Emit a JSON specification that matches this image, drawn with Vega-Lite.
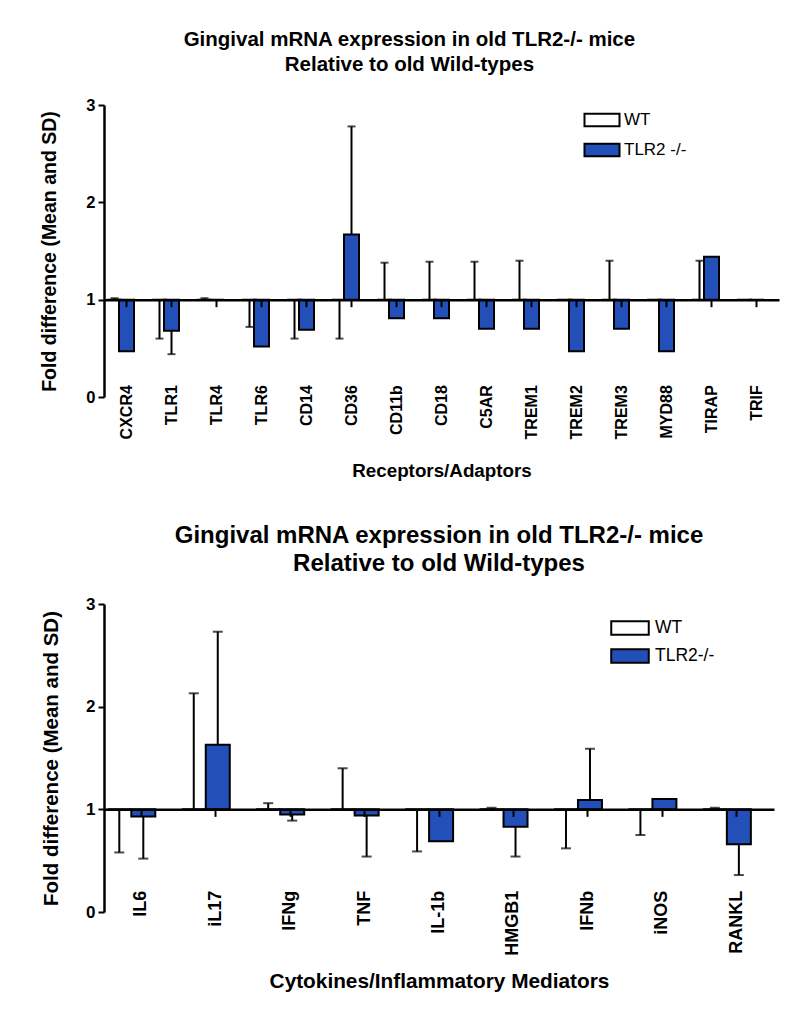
{
  "$schema": "https://vega.github.io/schema/vega-lite/v6.json",
  "background": "white",
  "padding": {"left": 39, "top": 29, "right": 5, "bottom": 5},
  "spacing": 43,
  "resolve": {"scale": {"fill": "independent"}, "legend": {"fill": "independent"}},
  "config": {
    "font": "Liberation Sans",
    "view": {"stroke": null},
    "axis": {"grid": false, "domainColor": "black", "tickColor": "black", "labelColor": "black", "titleColor": "black"}
  },
  "datasets": {
    "receptors": [
      {"gene": "CXCR4", "group": "WT", "mean": 1, "err": 1.015},
      {"gene": "CXCR4", "group": "TLR2 -/-", "mean": 0.47, "err": null},
      {"gene": "TLR1", "group": "WT", "mean": 1, "err": 0.6},
      {"gene": "TLR1", "group": "TLR2 -/-", "mean": 0.68, "err": 0.44},
      {"gene": "TLR4", "group": "WT", "mean": 1, "err": 1.015},
      {"gene": "TLR4", "group": "TLR2 -/-", "mean": 1, "err": null},
      {"gene": "TLR6", "group": "WT", "mean": 1, "err": 0.72},
      {"gene": "TLR6", "group": "TLR2 -/-", "mean": 0.52, "err": null},
      {"gene": "CD14", "group": "WT", "mean": 1, "err": 0.6},
      {"gene": "CD14", "group": "TLR2 -/-", "mean": 0.69, "err": null},
      {"gene": "CD36", "group": "WT", "mean": 1, "err": 0.6},
      {"gene": "CD36", "group": "TLR2 -/-", "mean": 1.67, "err": 2.78},
      {"gene": "CD11b", "group": "WT", "mean": 1, "err": 1.38},
      {"gene": "CD11b", "group": "TLR2 -/-", "mean": 0.81, "err": null},
      {"gene": "CD18", "group": "WT", "mean": 1, "err": 1.39},
      {"gene": "CD18", "group": "TLR2 -/-", "mean": 0.81, "err": null},
      {"gene": "C5AR", "group": "WT", "mean": 1, "err": 1.39},
      {"gene": "C5AR", "group": "TLR2 -/-", "mean": 0.7, "err": null},
      {"gene": "TREM1", "group": "WT", "mean": 1, "err": 1.4},
      {"gene": "TREM1", "group": "TLR2 -/-", "mean": 0.7, "err": null},
      {"gene": "TREM2", "group": "WT", "mean": 1, "err": null},
      {"gene": "TREM2", "group": "TLR2 -/-", "mean": 0.47, "err": null},
      {"gene": "TREM3", "group": "WT", "mean": 1, "err": 1.4},
      {"gene": "TREM3", "group": "TLR2 -/-", "mean": 0.7, "err": null},
      {"gene": "MYD88", "group": "WT", "mean": 1, "err": null},
      {"gene": "MYD88", "group": "TLR2 -/-", "mean": 0.47, "err": null},
      {"gene": "TIRAP", "group": "WT", "mean": 1, "err": 1.4},
      {"gene": "TIRAP", "group": "TLR2 -/-", "mean": 1.44, "err": null},
      {"gene": "TRIF", "group": "WT", "mean": 1, "err": null},
      {"gene": "TRIF", "group": "TLR2 -/-", "mean": 1, "err": null}
    ],
    "cytokines": [
      {"gene": "IL6", "group": "WT", "mean": 1, "err": 0.58},
      {"gene": "IL6", "group": "TLR2-/-", "mean": 0.93, "err": 0.52},
      {"gene": "iL17", "group": "WT", "mean": 1, "err": 2.13},
      {"gene": "iL17", "group": "TLR2-/-", "mean": 1.63, "err": 2.73},
      {"gene": "IFNg", "group": "WT", "mean": 1, "err": 1.06},
      {"gene": "IFNg", "group": "TLR2-/-", "mean": 0.95, "err": 0.89},
      {"gene": "TNF", "group": "WT", "mean": 1, "err": 1.4},
      {"gene": "TNF", "group": "TLR2-/-", "mean": 0.94, "err": 0.54},
      {"gene": "IL-1b", "group": "WT", "mean": 1, "err": 0.59},
      {"gene": "IL-1b", "group": "TLR2-/-", "mean": 0.69, "err": null},
      {"gene": "HMGB1", "group": "WT", "mean": 1, "err": 1.015},
      {"gene": "HMGB1", "group": "TLR2-/-", "mean": 0.83, "err": 0.54},
      {"gene": "IFNb", "group": "WT", "mean": 1, "err": 0.62},
      {"gene": "IFNb", "group": "TLR2-/-", "mean": 1.09, "err": 1.59},
      {"gene": "iNOS", "group": "WT", "mean": 1, "err": 0.75},
      {"gene": "iNOS", "group": "TLR2-/-", "mean": 1.1, "err": null},
      {"gene": "RANKL", "group": "WT", "mean": 1, "err": 1.015},
      {"gene": "RANKL", "group": "TLR2-/-", "mean": 0.66, "err": 0.36}
    ]
  },
  "vconcat": [
    {
      "width": 675,
      "height": 292,
      "data": {"name": "receptors"},
      "title": {
        "text": ["Gingival mRNA expression in old TLR2-/- mice", "Relative to old Wild-types"],
        "fontSize": 20.5,
        "fontWeight": "bold",
        "lineHeight": 25,
        "anchor": "middle",
        "frame": "bounds",
        "offset": 22,
        "color": "black"
      },
      "encoding": {
        "x": {
          "field": "gene",
          "type": "nominal",
          "sort": null,
          "scale": {"paddingInner": 0.2, "paddingOuter": 0.1},
          "axis": {
            "orient": "bottom",
            "offset": -97.33,
            "domainWidth": 2.5,
            "tickWidth": 2,
            "tickSize": 7,
            "labelAngle": -90,
            "labelFontSize": 16,
            "labelFontWeight": "bold",
            "labelPadding": 78,
            "title": "Receptors/Adaptors",
            "titleFontSize": 18.8,
            "titleFontWeight": "bold",
            "titlePadding": 23,
            "zindex": 1
          }
        },
        "xOffset": {
          "field": "group",
          "type": "nominal",
          "scale": {"domain": ["WT", "TLR2 -/-"], "paddingInner": 0, "paddingOuter": 0}
        }
      },
      "layer": [
        {
          "mark": {"type": "bar", "stroke": "black", "strokeWidth": 2, "size": 15},
          "encoding": {
            "y": {
              "field": "mean",
              "type": "quantitative",
              "scale": {"domain": [0, 3]},
              "axis": {
                "values": [0, 1, 2, 3],
                "format": "d",
                "domainWidth": 2.5,
                "tickWidth": 2,
                "tickSize": 6,
                "labelFontSize": 16.5,
                "labelFontWeight": "bold",
                "labelPadding": 3,
                "title": "Fold difference (Mean and SD)",
                "titleFontSize": 19.5,
                "titleFontWeight": "bold",
                "titlePadding": 26
              }
            },
            "y2": {"datum": 1},
            "fill": {
              "field": "group",
              "type": "nominal",
              "scale": {"domain": ["WT", "TLR2 -/-"], "range": ["white", "#2350b8"]},
              "legend": {
                "orient": "none",
                "legendX": 483,
                "legendY": 0,
                "title": null,
                "symbolType": "M-1.25,-0.45H1.25V0.45H-1.25Z",
                "symbolSize": 784,
                "symbolStrokeColor": "black",
                "symbolStrokeWidth": 2,
                "labelFontSize": 17,
                "labelOffset": 7,
                "rowPadding": 4,
                "labelColor": "black"
              }
            }
          }
        },
        {
          "transform": [{"filter": "isValid(datum.err)"}],
          "mark": {"type": "rule", "color": "black", "strokeWidth": 2},
          "encoding": {
            "y": {"field": "mean", "type": "quantitative"},
            "y2": {"field": "err"}
          }
        },
        {
          "transform": [{"filter": "isValid(datum.err)"}],
          "mark": {"type": "tick", "color": "black", "thickness": 2, "size": 8, "orient": "horizontal"},
          "encoding": {
            "y": {"field": "err", "type": "quantitative"}
          }
        }
      ]
    },
    {
      "width": 670,
      "height": 308,
      "data": {"name": "cytokines"},
      "title": {
        "text": ["Gingival mRNA expression in old TLR2-/- mice", "Relative to old Wild-types"],
        "fontSize": 24,
        "fontWeight": "bold",
        "lineHeight": 28,
        "anchor": "middle",
        "frame": "group",
        "offset": 19,
        "color": "black"
      },
      "encoding": {
        "x": {
          "field": "gene",
          "type": "nominal",
          "sort": null,
          "scale": {"paddingInner": 0.25, "paddingOuter": 0.125},
          "axis": {
            "orient": "bottom",
            "offset": -102.67,
            "domainWidth": 2.5,
            "tickWidth": 2,
            "tickSize": 7,
            "labelAngle": -90,
            "labelFontSize": 18,
            "labelFontWeight": "bold",
            "labelPadding": 74,
            "title": "Cytokines/Inflammatory Mediators",
            "titleFontSize": 20.8,
            "titleFontWeight": "bold",
            "titlePadding": 16,
            "zindex": 1
          }
        },
        "xOffset": {
          "field": "group",
          "type": "nominal",
          "scale": {"domain": ["WT", "TLR2-/-"], "paddingInner": 0, "paddingOuter": 0}
        }
      },
      "layer": [
        {
          "mark": {"type": "bar", "stroke": "black", "strokeWidth": 2, "size": 24},
          "encoding": {
            "y": {
              "field": "mean",
              "type": "quantitative",
              "scale": {"domain": [0, 3]},
              "axis": {
                "values": [0, 1, 2, 3],
                "format": "d",
                "domainWidth": 2.5,
                "tickWidth": 2,
                "tickSize": 6,
                "labelFontSize": 17,
                "labelFontWeight": "bold",
                "labelPadding": 3,
                "title": "Fold difference (Mean and SD)",
                "titleFontSize": 20.5,
                "titleFontWeight": "bold",
                "titlePadding": 24
              }
            },
            "y2": {"datum": 1},
            "fill": {
              "field": "group",
              "type": "nominal",
              "scale": {"domain": ["WT", "TLR2-/-"], "range": ["white", "#2350b8"]},
              "legend": {
                "orient": "none",
                "legendX": 510,
                "legendY": 8,
                "title": null,
                "symbolType": "M-1.25,-0.45H1.25V0.45H-1.25Z",
                "symbolSize": 900,
                "symbolStrokeColor": "black",
                "symbolStrokeWidth": 2,
                "labelFontSize": 17.5,
                "labelOffset": 9,
                "rowPadding": 1,
                "labelColor": "black"
              }
            }
          }
        },
        {
          "transform": [{"filter": "isValid(datum.err)"}],
          "mark": {"type": "rule", "color": "black", "strokeWidth": 2},
          "encoding": {
            "y": {"field": "mean", "type": "quantitative"},
            "y2": {"field": "err"}
          }
        },
        {
          "transform": [{"filter": "isValid(datum.err)"}],
          "mark": {"type": "tick", "color": "black", "thickness": 2, "size": 10, "orient": "horizontal"},
          "encoding": {
            "y": {"field": "err", "type": "quantitative"}
          }
        }
      ]
    }
  ]
}
